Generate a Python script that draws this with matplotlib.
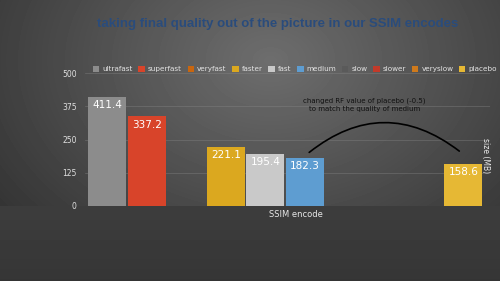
import numpy as np
import matplotlib.pyplot as plt
from matplotlib.patches import Patch, FancyArrowPatch

presets = ['ultrafast', 'superfast', 'veryfast', 'faster', 'fast',
           'medium', 'slow', 'slower', 'veryslow', 'placebo']
sizes = [411.4, 337.2, None, 221.1, 195.4, 182.3, None, None, None, 158.6]
colors = ['#8c8c8c', '#d8442a', '#c9660f', '#dba81f', '#c9c9c9',
          '#5e9dd1', '#5a5a5a', '#c23a2a', '#cf7a1c', '#e6b834']
yticks = [0, 125, 250, 375, 500]

fig = plt.figure(figsize=(5, 2.81), dpi=100)

# background: radial-ish gray gradient, darker floor
bg = fig.add_axes([0, 0, 1, 1])
yy, xx = np.mgrid[0:281, 0:500]
d = np.sqrt(((xx - 270) / 300.0) ** 2 + ((yy - 60) / 220.0) ** 2)
shade = 0.43 - 0.2 * d
shade = np.where(yy > 205, 0.24 - 0.03 * (yy - 205) / 76.0, shade)
bg.imshow(np.clip(shade, 0, 1), cmap='gray', vmin=0, vmax=1, aspect='auto',
          extent=[0, 500, 281, 0])
bg.axis('off')

ax = fig.add_axes([0.17, 0.267, 0.81, 0.473])
ax.set_facecolor('none')
for s in ax.spines.values():
    s.set_visible(False)

x = np.arange(len(presets))
for i, v in enumerate(sizes):
    if v is None:
        continue
    ax.bar(x[i], v, width=0.96, color=colors[i], zorder=3)
    ax.text(x[i], v - 12, f'{v}', ha='center', va='top', color='white',
            fontsize=7.5, zorder=4)

ax.set_xlim(-0.556, 9.67)
ax.set_ylim(0, 500)
ax.set_yticks(yticks)
ax.set_yticklabels([str(t) for t in yticks], color='#e0e0e0', fontsize=5.5)
ax.tick_params(axis='y', length=0, pad=6)
ax.set_xticks([])
ax.grid(axis='y', color='#8a8a8a', linewidth=0.5, alpha=0.5, zorder=0)

ax.set_xlabel('SSIM encode', color='#e8e8e8', fontsize=6, labelpad=1)
ax.xaxis.set_label_coords(0.52, -0.03)

ax.text(9.55, 190, 'size (MB)', rotation=-90, color='#e8e8e8', fontsize=5.5,
        ha='center', va='center')

# arc from medium to placebo
arc = FancyArrowPatch((5.05, 195), (8.95, 200), connectionstyle='arc3,rad=-0.4',
                      arrowstyle='-', color='black', linewidth=1.2, zorder=5)
ax.add_patch(arc)
ax.text(6.5, 380, 'changed RF value of placebo (-0.5)\nto match the quality of medium',
        ha='center', va='center', color='#111111', fontsize=5, linespacing=1.4)

handles = [Patch(facecolor=c, edgecolor='none') for c in colors]
leg = fig.legend(handles, presets, loc='center', bbox_to_anchor=(0.59, 0.754),
                 ncol=10, frameon=False, fontsize=5.2, handlelength=0.9,
                 handleheight=0.9, handletextpad=0.45, columnspacing=0.75,
                 borderaxespad=0, borderpad=0)
for t in leg.get_texts():
    t.set_color('#e4e4e4')

fig.text(0.555, 0.915, 'taking final quality out of the picture in our SSIM encodes',
         ha='center', va='center', color='#2a4c7c', fontsize=9.5,
         fontweight='bold', family='Liberation Sans')

fig.savefig('out.png', dpi=100)
